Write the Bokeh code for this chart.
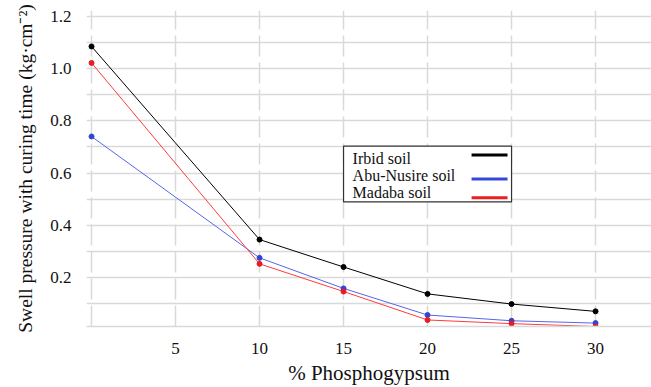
from bokeh.plotting import figure
from bokeh.models import Range1d, FixedTicker, BoxAnnotation, Label, NumeralTickFormatter
from bokeh.embed import file_html
from bokeh.resources import INLINE

# ---- data ----
phosphogypsum = [0, 10, 15, 20, 25, 30]
irbid = [1.085, 0.345, 0.240, 0.137, 0.098, 0.070]
abu_nusire = [0.740, 0.275, 0.158, 0.056, 0.034, 0.025]
madaba = [1.022, 0.252, 0.146, 0.037, 0.023, 0.012]

series_names = ["Irbid soil", "Abu-Nusire soil", "Madaba soil"]
x_tick_values = [5, 10, 15, 20, 25, 30]
x_grid_values = [0, 5, 10, 15, 20, 25, 30]
y_tick_values = [0.2, 0.4, 0.6, 0.8, 1.0, 1.2]
y_grid_values = [0.1, 0.2, 0.3, 0.4, 0.5, 0.6, 0.7, 0.8, 0.9, 1.0, 1.1, 1.2]
x_title = "% Phosphogypsum"
y_title = "Swell pressure with curing time (kg\u00b7cm\u207b\u00b2)"

FONT = "Liberation Serif"
GRID = "#d9d9d9"
line_colors = ["#000000", "#5566e8", "#ff3b3b"]
marker_colors = ["#000000", "#3344d0", "#e81c24"]
legend_colors = ["#000000", "#3448d8", "#ee1c25"]

p = figure(width=651, height=387, output_backend="svg", toolbar_location=None,
           x_range=Range1d(-0.3, 33.33), y_range=Range1d(0.012, 1.2228),
           min_border_left=86, min_border_right=0, min_border_top=10,
           min_border_bottom=60)
p.outline_line_color = None
p.background_fill_color = "white"

# axes
p.xaxis.ticker = FixedTicker(ticks=x_tick_values)
p.yaxis.ticker = FixedTicker(ticks=y_tick_values)
p.yaxis.formatter = NumeralTickFormatter(format="0.0")
p.xaxis.axis_line_color = GRID
p.xaxis.axis_line_width = 1.5
p.yaxis.axis_line_color = None
for ax in (p.xaxis[0], p.yaxis[0]):
    ax.major_tick_line_color = None
    ax.minor_tick_line_color = None
    ax.major_label_text_font = FONT
    ax.major_label_text_font_size = "17px"
    ax.major_label_text_color = "#111111"
    ax.axis_label_text_font = FONT
    ax.axis_label_text_font_style = "normal"
    ax.axis_label_text_color = "#111111"
p.yaxis.major_label_standoff = 9
p.xaxis.major_label_standoff = 10
p.yaxis.axis_label = y_title
p.yaxis.axis_label_text_font_size = "19.5px"
p.yaxis.axis_label_standoff = 11
p.xaxis.axis_label = x_title
p.xaxis.axis_label_text_font_size = "21px"
p.xaxis.axis_label_standoff = 4

# grids
p.xgrid.ticker = FixedTicker(ticks=x_grid_values)
p.ygrid.ticker = FixedTicker(ticks=y_grid_values)
p.xgrid.grid_line_color = GRID
p.xgrid.grid_line_width = 1.5
p.xgrid.grid_line_dash = "21 6"
p.ygrid.grid_line_color = GRID
p.ygrid.grid_line_width = 1.5

# data lines
for ys, lc, mc in zip([irbid, abu_nusire, madaba], line_colors, marker_colors):
    p.line(phosphogypsum, ys, line_color=lc, line_width=1)
    p.scatter(phosphogypsum, ys, size=5, fill_color=mc, line_color=mc)

# legend (custom, labels left and samples right)
p.add_layout(BoxAnnotation(left=15.0, right=25.0, bottom=0.4895, top=0.703,
                           fill_color="white", fill_alpha=1.0,
                           line_color="#333333", line_alpha=1.0,
                           line_width=1.2, level="guide"))
label_y = [0.657, 0.589, 0.524]
sample_y = [0.669, 0.577, 0.505]
for name, ly in zip(series_names, label_y):
    p.add_layout(Label(x=15.54, y=ly, text=name, text_font=FONT,
                       text_font_size="16px", text_baseline="middle",
                       text_color="#111111", level="overlay"))
for c, sy in zip(legend_colors, sample_y):
    p.segment(x0=[22.62], y0=[sy], x1=[24.76], y1=[sy], line_color=c,
              line_width=3, level="overlay")

open("out.html", "w").write(file_html(p, INLINE))
